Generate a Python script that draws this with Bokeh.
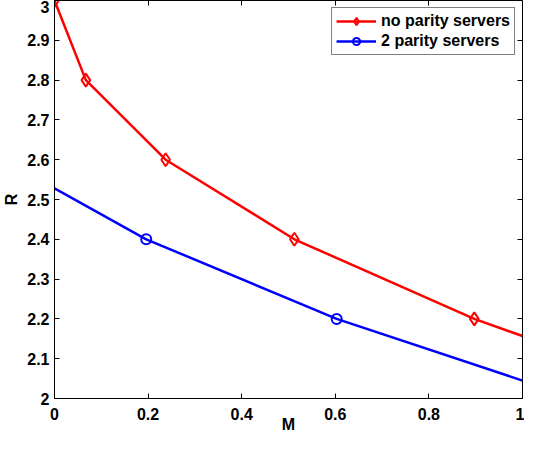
from bokeh.plotting import figure
from bokeh.models import FixedTicker, LinearAxis, Legend, LegendItem, Range1d
from bokeh.embed import file_html
from bokeh.resources import INLINE

# Data
red_line_x = [0.0, 0.067, 0.2375, 0.5125, 0.897, 1.0]
red_line_y = [3.0, 2.8, 2.6, 2.4, 2.2, 2.157]
red_mark_x = [0.0, 0.067, 0.2375, 0.5125, 0.897]
red_mark_y = [3.0, 2.8, 2.6, 2.4, 2.2]

blue_line_x = [0.0, 0.196, 0.603, 1.0]
blue_line_y = [2.528, 2.4, 2.2, 2.045]
blue_mark_x = [0.196, 0.603]
blue_mark_y = [2.4, 2.2]

series_names = ["no parity servers", "2 parity servers"]

x_ticks = [0, 0.2, 0.4, 0.6, 0.8, 1]
x_labels = ["0", "0.2", "0.4", "0.6", "0.8", "1"]
y_ticks = [2, 2.1, 2.2, 2.3, 2.4, 2.5, 2.6, 2.7, 2.8, 2.9, 3]
y_labels = ["2", "2.1", "2.2", "2.3", "2.4", "2.5", "2.6", "2.7", "2.8", "2.9", "3"]
x_title = "M"
y_title = "R"

X_MIN, X_MAX = 0, 1
Y_MIN, Y_MAX = 2, 3

FONT = "Liberation Sans"
FS = "16px"

p = figure(width=524, height=435, output_backend="svg", toolbar_location=None,
           x_range=Range1d(X_MIN, X_MAX), y_range=Range1d(Y_MIN, Y_MAX),
           min_border_left=50, min_border_right=2, min_border_top=0, min_border_bottom=0)
p.xgrid.visible = False
p.ygrid.visible = False
p.outline_line_color = "black"
p.outline_line_width = 1
p.background_fill_color = "white"
p.border_fill_color = "white"

def style_axis(ax, ticks, labels, show_labels=True):
    ax.ticker = FixedTicker(ticks=ticks)
    ax.major_tick_in = 5
    ax.major_tick_out = 0
    ax.minor_tick_in = 0
    ax.minor_tick_out = 0
    ax.axis_line_color = "black"
    ax.major_tick_line_color = "black"
    ax.major_label_text_font = FONT
    ax.major_label_text_font_style = "bold"
    ax.major_label_text_color = "black"
    ax.major_label_text_font_size = FS
    if show_labels:
        ax.major_label_overrides = dict(zip(ticks, labels))
    else:
        ax.major_label_overrides = {t: "" for t in ticks}
        ax.major_label_standoff = 0
        ax.axis_label_standoff = 0

style_axis(p.xaxis[0], x_ticks, x_labels)
style_axis(p.yaxis[0], y_ticks, y_labels)
p.xaxis[0].major_label_standoff = 9
p.yaxis[0].major_label_standoff = 5
p.xaxis[0].axis_label = x_title
p.yaxis[0].axis_label = y_title
for ax in (p.xaxis[0], p.yaxis[0]):
    ax.axis_label_text_font = FONT
    ax.axis_label_text_font_style = "bold"
    ax.axis_label_text_font_size = FS
    ax.axis_label_text_color = "black"
p.xaxis[0].axis_label_standoff = -7
p.yaxis[0].axis_label_standoff = 4

# Tick marks on the top and right edges of the box (MATLAB "box on")
top_ax = LinearAxis(fixed_location=Y_MAX)
style_axis(top_ax, x_ticks, x_labels, show_labels=False)
p.add_layout(top_ax, "above")
right_ax = LinearAxis(fixed_location=X_MAX)
style_axis(right_ax, y_ticks, y_labels, show_labels=False)
p.add_layout(right_ax, "right")

r_line = p.line(red_line_x, red_line_y, line_color="#ff0000", line_width=2.5)
r_mark = p.scatter(red_mark_x, red_mark_y, marker="diamond", size=13,
                   line_color="#ff0000", fill_color=None, line_width=2)
b_line = p.line(blue_line_x, blue_line_y, line_color="#0000ff", line_width=2.5)
b_mark = p.scatter(blue_mark_x, blue_mark_y, marker="circle", size=10,
                   line_color="#0000ff", fill_color=None, line_width=2)

legend = Legend(items=[
    LegendItem(label=series_names[0], renderers=[r_line, r_mark]),
    LegendItem(label=series_names[1], renderers=[b_line, b_mark]),
], location="top_right")
legend.margin = 7
legend.padding = 4
legend.spacing = 2
legend.glyph_width = 40
legend.glyph_height = 18
legend.label_height = 18
legend.label_standoff = 5
legend.label_text_font = FONT
legend.label_text_font_style = "bold"
legend.label_text_font_size = FS
legend.label_text_color = "black"
legend.border_line_color = "black"
legend.border_line_width = 1
legend.background_fill_color = "white"
legend.background_fill_alpha = 1.0
p.add_layout(legend, "center")

open("out.html", "w").write(file_html(p, INLINE))
